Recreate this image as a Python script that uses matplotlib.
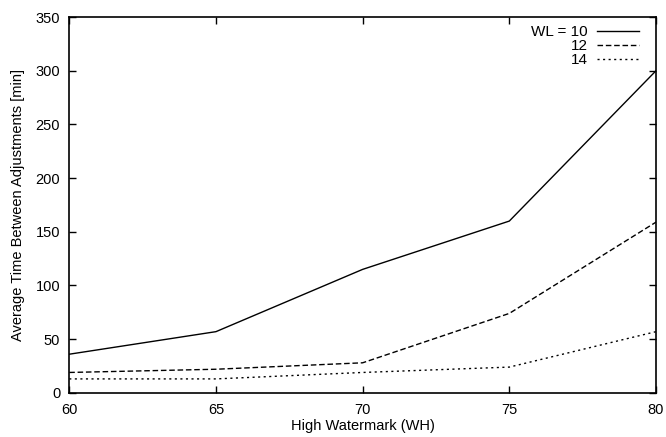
import matplotlib
matplotlib.use('Agg')
import matplotlib.pyplot as plt

plt.rcParams['font.family'] = ['Liberation Sans', 'DejaVu Sans']

wh = [60, 65, 70, 75, 80]
wl10 = [36, 57, 115, 160, 300]
wl12 = [19, 22, 28, 74, 159]
wl14 = [13, 13, 19, 24, 57]

fig = plt.figure(figsize=(6.66, 4.37), dpi=100)
ax = fig.add_axes([0.104, 0.101, 0.881, 0.860])

ax.plot(wh, wl10, color='black', linewidth=1.0, linestyle='-', label='WL = 10')
ax.plot(wh, wl12, color='black', linewidth=1.0, linestyle=(0, (4, 2)), label='12')
ax.plot(wh, wl14, color='black', linewidth=1.0, linestyle=(0, (1.5, 2.5)), label='14')

ax.set_xlim(60, 80)
ax.set_ylim(0, 350)
ax.set_xticks(wh)
ax.set_yticks(range(0, 351, 50))
ax.tick_params(direction='in', top=True, right=True, labelsize=10.5, length=5, width=1)
ax.tick_params(axis='x', pad=7)
ax.tick_params(axis='y', pad=6.5)
for s in ax.spines.values():
    s.set_linewidth(1.2)

ax.set_xlabel('High Watermark (WH)', fontsize=10.5, labelpad=2)
ax.set_ylabel('Average Time Between Adjustments [min]', fontsize=10.5, labelpad=8)

ax.legend(loc='upper right', bbox_to_anchor=(0.971, 0.978), frameon=False,
          markerfirst=False, fontsize=11, handlelength=2.75, labelspacing=0.0,
          borderaxespad=0, borderpad=0, handletextpad=0.6)

fig.savefig('out.png', dpi=100)
